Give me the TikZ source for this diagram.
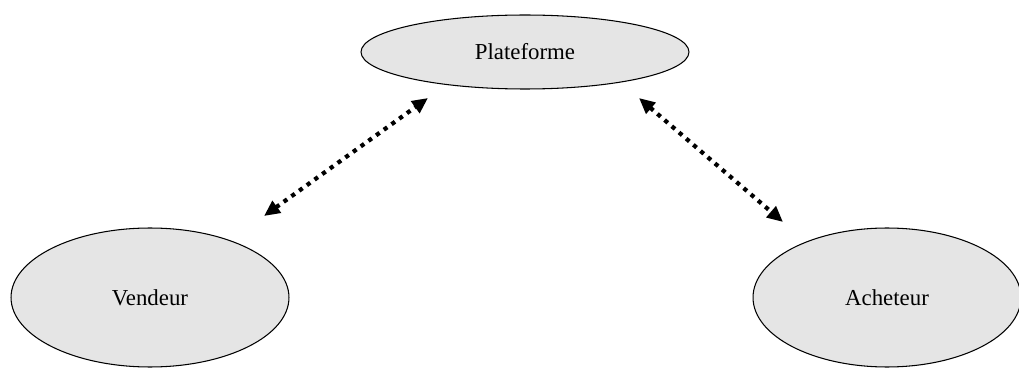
\documentclass[tikz,border=0pt]{standalone}
\usepackage{fontspec}
\setmainfont{Liberation Serif}
\usetikzlibrary{arrows.meta,shapes.geometric}
\tikzset{
	actor/.style={ellipse,draw,line width=.6pt,fill=gray!20,inner sep=0pt,
		font=\fontsize{13}{15}\selectfont},
	link/.style={line width=2.4pt,dash pattern=on 2.4pt off 3pt,
		{Triangle[length=9pt,width=8pt]}-{Triangle[length=9pt,width=8pt]}}
}
\begin{document}
\begin{tikzpicture}[x=.02cm,y=-.02cm]
   \useasboundingbox (0,0) rectangle (1019,368);
   \node[actor,minimum width=6.56cm,minimum height=1.48cm] (plat) at (525,52) {Plateforme};
   \node[actor,minimum width=5.56cm,minimum height=2.78cm] (vend) at (150,297.5) {Vendeur};
   \node[actor,minimum width=5.36cm,minimum height=2.78cm] (ach) at (887,297.5) {Acheteur};
   % free ends of the two links
   \coordinate (pv) at (428,98);
   \coordinate (vp) at (264,216);
   \coordinate (pa) at (639,98);
   \coordinate (ap) at (783,222);
   \draw[link] (vp) -- (pv);
   \draw[link] (pa) -- (ap);
\end{tikzpicture}
\end{document}
